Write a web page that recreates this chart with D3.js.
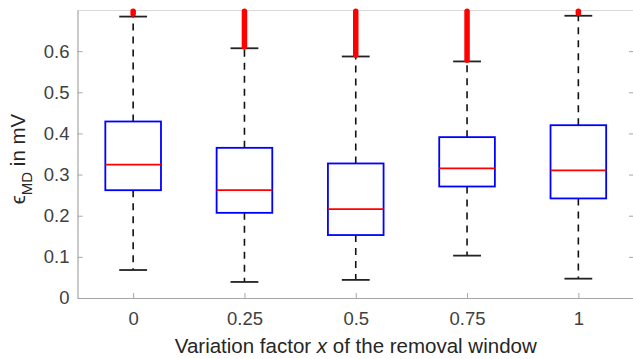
<!DOCTYPE html>
<html>
<head>
<meta charset="utf-8">
<script src="https://cdn.jsdelivr.net/npm/d3@7"></script>
<style>
  body { margin: 0; background: #fff; }
  svg { display: block; font-family: 'Liberation Sans', Arial, sans-serif; }
</style>
</head>
<body>
<div id="plotting-area"><svg></svg></div>
<script>
const groups = ['0', '0.25', '0.5', '0.75', '1']
const whiskerLow = [0.068, 0.039, 0.044, 0.103, 0.047]
const q1 = [0.262, 0.207, 0.153, 0.271, 0.242]
const medians = [0.324, 0.262, 0.216, 0.315, 0.310]
const q3 = [0.429, 0.365, 0.327, 0.391, 0.420]
const whiskerHigh = [0.684, 0.607, 0.587, 0.575, 0.686]
// outliers are so dense they merge into one red bar
const outlierLow = [0.690, 0.610, 0.590, 0.578, 0.692]
const outlierHigh = [0.697, 0.697, 0.697, 0.697, 0.697]
const yTicks = [0, 0.1, 0.2, 0.3, 0.4, 0.5, 0.6]

const width = 633
const height = 359
const plot = { left: 77.5, right: 634, top: 10, bottom: 298 }
const axisColor = '#a6a6a6'
const textColor = '#404040'

const svg = d3.select('#plotting-area svg')
    .attr('width', width)
    .attr('height', height)

const x = d3.scalePoint()
    .domain(groups)
    .range([plot.left, plot.right])
    .padding(0.5)

const y = d3.scaleLinear()
    .domain([0, 0.7])
    .range([plot.bottom, plot.top])

const boxWidth = x.step() * 0.5
const capWidth = x.step() * 0.25

const data = groups.map((g, i) => ({
    g: g,
    lo: whiskerLow[i],
    q1: q1[i],
    med: medians[i],
    q3: q3[i],
    hi: whiskerHigh[i],
    oLo: outlierLow[i],
    oHi: outlierHigh[i]
}))

// top border (box on)
svg.append('line')
    .attr('x1', plot.left).attr('x2', plot.right)
    .attr('y1', plot.top + 0.5).attr('y2', plot.top + 0.5)
    .attr('stroke', '#d9d9d9')
    .attr('stroke-width', 1)

// axes, ticks pointing inward
const yAxis = d3.axisLeft(y)
    .tickValues(yTicks)
    .tickFormat(d3.format('~g'))
    .tickSizeInner(-5)
    .tickSizeOuter(0)
    .tickPadding(8)

svg.append('g')
    .classed('y-axis', true)
    .attr('transform', `translate(${plot.left}, 0)`)
    .call(yAxis)

const yAxisRight = d3.axisRight(y)
    .tickValues(yTicks)
    .tickFormat('')
    .tickSizeInner(-5)
    .tickSizeOuter(0)

svg.append('g')
    .classed('y-axis-right', true)
    .attr('transform', `translate(${plot.right}, 0)`)
    .call(yAxisRight)

const xAxis = d3.axisBottom(x)
    .tickSizeInner(-5)
    .tickSizeOuter(0)
    .tickPadding(14)

svg.append('g')
    .classed('x-axis', true)
    .attr('transform', `translate(0, ${plot.bottom})`)
    .call(xAxis)

svg.selectAll('.y-axis path, .x-axis path, .y-axis-right path')
    .attr('stroke', axisColor)
    .attr('stroke-width', 1.2)
svg.selectAll('.tick line')
    .attr('stroke', axisColor)
svg.selectAll('.tick text')
    .attr('fill', textColor)
    .style('font-size', '18.5px')

// whiskers
const boxes = svg.append('g').classed('boxes', true)

boxes.selectAll('.whisker-up')
    .data(data)
    .join('line')
    .attr('x1', d => x(d.g)).attr('x2', d => x(d.g))
    .attr('y1', d => y(d.q3)).attr('y2', d => y(d.hi))
    .attr('stroke', '#111')
    .attr('stroke-width', 1.6)
    .attr('stroke-dasharray', '7,6')

boxes.selectAll('.whisker-down')
    .data(data)
    .join('line')
    .attr('x1', d => x(d.g)).attr('x2', d => x(d.g))
    .attr('y1', d => y(d.q1)).attr('y2', d => y(d.lo))
    .attr('stroke', '#111')
    .attr('stroke-width', 1.6)
    .attr('stroke-dasharray', '7,6')

boxes.selectAll('.cap')
    .data(data.flatMap(d => [{ g: d.g, v: d.lo }, { g: d.g, v: d.hi }]))
    .join('line')
    .attr('x1', d => x(d.g) - capWidth / 2).attr('x2', d => x(d.g) + capWidth / 2)
    .attr('y1', d => y(d.v)).attr('y2', d => y(d.v))
    .attr('stroke', '#222')
    .attr('stroke-width', 1.8)

boxes.selectAll('.box')
    .data(data)
    .join('rect')
    .attr('x', d => x(d.g) - boxWidth / 2)
    .attr('y', d => y(d.q3))
    .attr('width', boxWidth)
    .attr('height', d => y(d.q1) - y(d.q3))
    .attr('fill', 'none')
    .attr('stroke', '#0000ff')
    .attr('stroke-width', 1.8)

boxes.selectAll('.median')
    .data(data)
    .join('line')
    .attr('x1', d => x(d.g) - boxWidth / 2).attr('x2', d => x(d.g) + boxWidth / 2)
    .attr('y1', d => y(d.med)).attr('y2', d => y(d.med))
    .attr('stroke', '#ff0000')
    .attr('stroke-width', 1.8)

boxes.selectAll('.outliers')
    .data(data)
    .join('line')
    .attr('x1', d => x(d.g)).attr('x2', d => x(d.g))
    .attr('y1', d => y(d.oLo)).attr('y2', d => y(d.oHi))
    .attr('stroke', '#ff0000')
    .attr('stroke-width', 5.5)
    .attr('stroke-linecap', 'round')

// labels
svg.append('text')
    .attr('x', (plot.left + 634) / 2)
    .attr('y', 353)
    .attr('text-anchor', 'middle')
    .attr('fill', '#262626')
    .style('font-size', '20.5px')
    .html('Variation factor <tspan font-style="italic">x</tspan> of the removal window')

svg.append('text')
    .attr('transform', `translate(25, ${(plot.top + plot.bottom) / 2 + 5}) rotate(-90)`)
    .attr('text-anchor', 'middle')
    .attr('fill', '#262626')
    .style('font-size', '20.5px')
    .html('ϵ<tspan dy="7" font-size="15px">MD</tspan><tspan dy="-7"> in mV</tspan>')
</script>
</body>
</html>
